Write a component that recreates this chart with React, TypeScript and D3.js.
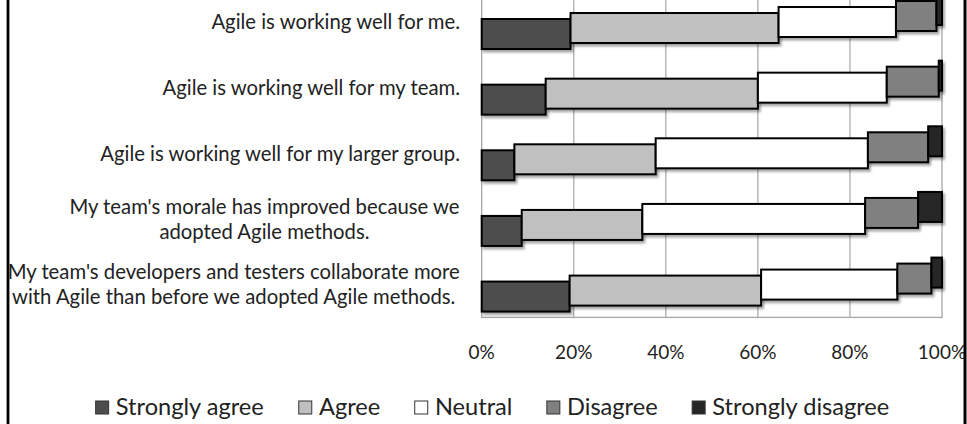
import React from "react";
import * as d3 from "d3";

const categories = [
  "Agile is working well for me.",
  "Agile is working well for my team.",
  "Agile is working well for my larger group.",
  "My team's morale has improved because we adopted Agile methods.",
  "My team's developers and testers collaborate more with Agile than before we adopted Agile methods.",
];
const categoryLines = [
  ["Agile is working well for me."],
  ["Agile is working well for my team."],
  ["Agile is working well for my larger group."],
  ["My team's morale has improved because we", "adopted Agile methods."],
  ["My team's developers and testers collaborate more", "with Agile than before we adopted Agile methods."],
];
const seriesNames = ["Strongly agree", "Agree", "Neutral", "Disagree", "Strongly disagree"];
const stronglyAgree = [19.3, 13.9, 7.1, 8.7, 19.1];
const agree = [45.2, 46.1, 30.7, 26.2, 41.6];
const neutral = [25.5, 28.0, 46.1, 48.4, 29.6];
const disagree = [8.8, 11.3, 13.1, 11.5, 7.4];
const stronglyDisagree = [1.2, 0.7, 3.0, 5.2, 2.3];
const tickValues = [0, 20, 40, 60, 80, 100];
const tickLabels = ["0%", "20%", "40%", "60%", "80%", "100%"];

const seriesColors = ["#4d4d4d", "#c0c0c0", "#ffffff", "#808080", "#262626"];

const W = 967;
const H = 424;
const FONT = "Lato, 'Open Sans', sans-serif";

let ctx: CanvasRenderingContext2D | null = null;
function measure(text: string, size: number): number {
  if (!ctx) ctx = document.createElement("canvas").getContext("2d");
  if (!ctx) return text.length * size * 0.5;
  ctx.font = `${size}px Lato`;
  return ctx.measureText(text).width;
}

export default function App() {
  const rows = categories.map((c, i) => ({
    cat: c,
    [seriesNames[0]]: stronglyAgree[i],
    [seriesNames[1]]: agree[i],
    [seriesNames[2]]: neutral[i],
    [seriesNames[3]]: disagree[i],
    [seriesNames[4]]: stronglyDisagree[i],
  }));
  const stacked = d3.stack<any>().keys(seriesNames)(rows);

  const x = d3.scaleLinear().domain([0, 100]).range([481.7, 942]);
  const y = d3
    .scaleBand<string>()
    .domain(categories)
    .range([-10.8, 317.4])
    .paddingInner(0.543)
    .paddingOuter(0.2715);
  const bw = y.bandwidth();
  const seriesShift = 6;

  const labelSize = 20.3;
  const labelRight = 460;
  const tickSize = 19;
  const legendSize = 23.6;

  // legend layout
  const sq = 14;
  const sqGap = 6.7;
  const itemGap = 34;
  const itemWidths = seriesNames.map((n) => sq + sqGap + measure(n, legendSize));
  const totalLegend = d3.sum(itemWidths) + itemGap * (seriesNames.length - 1);
  const legendCenter = 492.5;
  let lx = legendCenter - totalLegend / 2;
  const legendItems = seriesNames.map((n, i) => {
    const item = { name: n, x: lx, color: seriesColors[i] };
    lx += itemWidths[i] + itemGap;
    return item;
  });
  const legendBaseline = 415;

  const [x0, x1] = x.range();
  const [yTop, yBottom] = [-10.8, 317.4];

  return (
    <svg
      width={W}
      height={H}
      style={{ position: "absolute", left: 0, top: 0, background: "#fff" }}
      fontFamily={FONT}
    >
      <defs>
        <filter id="shadow" x="-10%" y="-20%" width="130%" height="160%">
          <feDropShadow dx="2" dy="2.5" stdDeviation="1.3" floodColor="#000" floodOpacity="0.35" />
        </filter>
      </defs>
      <rect x={0} y={0} width={W} height={H} fill="#fff" />

      {/* gridlines */}
      {tickValues.slice(1, -1).map((t) => (
        <line key={t} x1={x(t)} x2={x(t)} y1={yTop} y2={yBottom} stroke="#a6a6a6" strokeWidth={1.2} />
      ))}
      {/* plot area border */}
      <rect
        x={x0}
        y={yTop}
        width={x1 - x0}
        height={yBottom - yTop}
        fill="none"
        stroke="#a6a6a6"
        strokeWidth={1.3}
      />

      {/* bars */}
      {stacked.map((s, si) => (
        <g key={s.key} filter="url(#shadow)">
          {s.map((d, ci) => {
            const cy = (y(categories[ci]) as number) + bw / 2 + (2 - si) * seriesShift;
            return (
              <rect
                key={ci}
                x={x(d[0])}
                y={cy - bw / 2}
                width={Math.max(0, x(d[1]) - x(d[0]))}
                height={bw}
                fill={seriesColors[si]}
                stroke="#000"
                strokeWidth={2}
              />
            );
          })}
        </g>
      ))}

      {/* category labels */}
      {categoryLines.map((lines, ci) => {
        const cy = (y(categories[ci]) as number) + bw / 2;
        const n = lines.length;
        const maxW = d3.max(lines, (l) => measure(l, labelSize)) as number;
        return (
          <g key={ci}>
            {lines.map((l, k) => (
              <text
                key={k}
                x={n === 1 ? labelRight : labelRight - maxW / 2}
                y={cy + 7.3 + (k - (n - 1) / 2) * 25}
                textAnchor={n === 1 ? "end" : "middle"}
                fontSize={labelSize}
                fill="#222"
              >
                {l}
              </text>
            ))}
          </g>
        );
      })}

      {/* x tick labels */}
      {tickValues.map((t, i) => (
        <text key={t} x={x(t)} y={359} textAnchor="middle" fontSize={tickSize} fill="#222">
          {tickLabels[i]}
        </text>
      ))}

      {/* legend */}
      {legendItems.map((it) => (
        <g key={it.name}>
          <rect
            x={it.x + 0.5}
            y={legendBaseline - sq}
            width={sq - 1}
            height={sq - 1}
            fill={it.color}
            stroke="#333"
            strokeWidth={1}
          />
          <text x={it.x + sq + sqGap} y={legendBaseline} fontSize={legendSize} fill="#222">
            {it.name}
          </text>
        </g>
      ))}

      {/* outer frame */}
      <line x1={8} x2={8} y1={0} y2={H} stroke="#000" strokeWidth={2.8} />
      <line x1={965} x2={965} y1={0} y2={H} stroke="#000" strokeWidth={3} />
    </svg>
  );
}
